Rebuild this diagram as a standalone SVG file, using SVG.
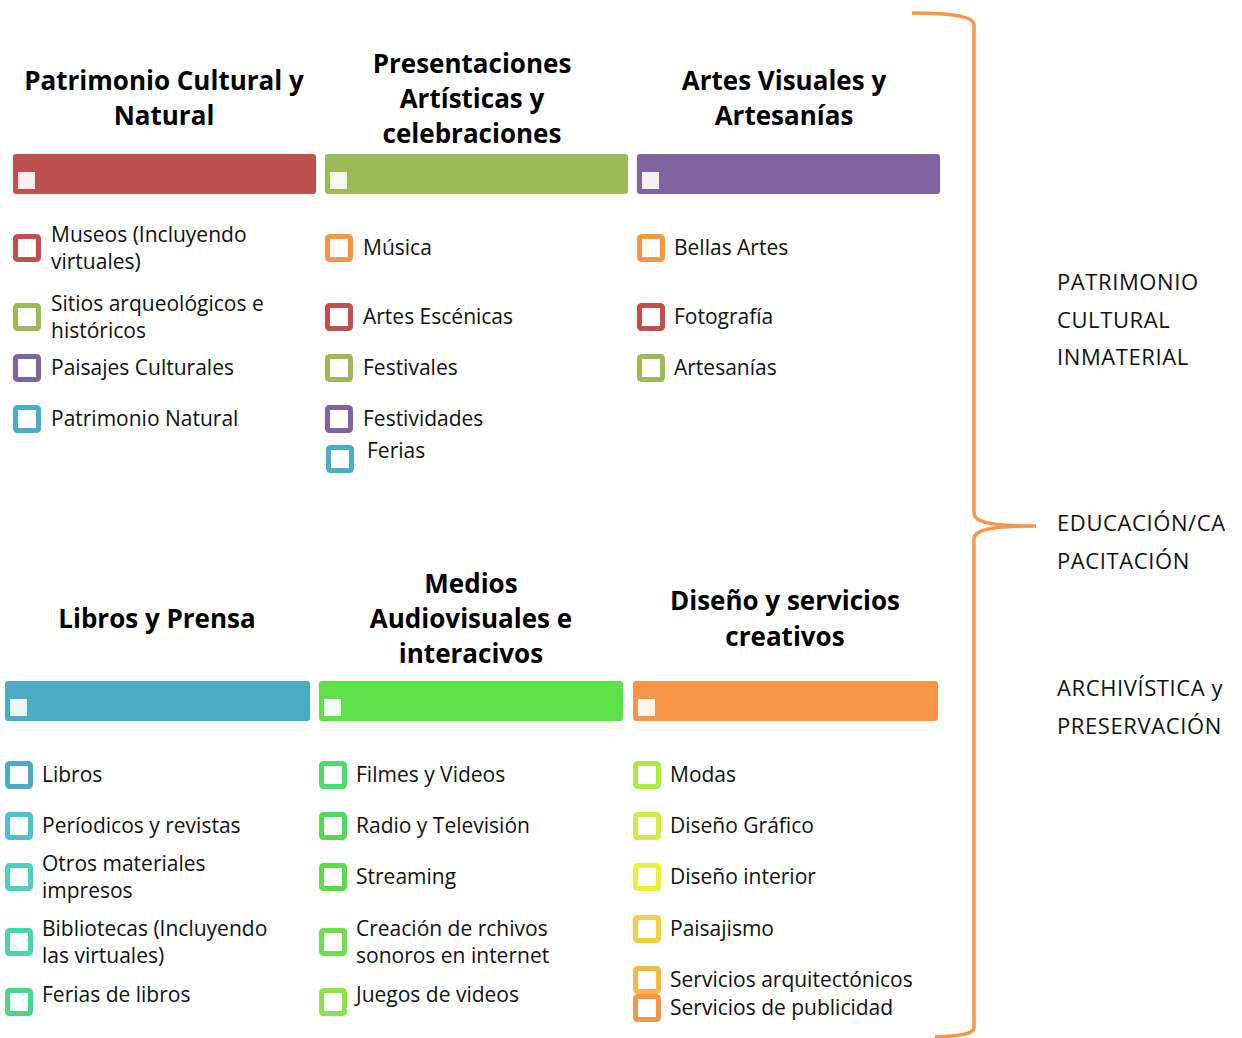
<svg xmlns="http://www.w3.org/2000/svg" width="1242" height="1038" viewBox="0 0 1242 1038">
<style>
.h{font-family:"Open Sans","Liberation Sans",sans-serif;font-weight:bold;font-size:26px;fill:#000;text-anchor:middle}
.t{font-family:"Open Sans","Liberation Sans",sans-serif;font-size:21px;fill:#111}
.r{font-family:"Open Sans","Liberation Sans",sans-serif;font-size:22px;letter-spacing:0.6px;fill:#111}
.cb{fill:#fff;stroke-width:5}
.sq{fill:#fff;fill-opacity:0.9}
</style>
<rect width="1242" height="1038" fill="#fff"/>

<g id="col-patrimonio">
<text class="h" x="164" y="90">Patrimonio Cultural y</text>
<text class="h" x="164" y="125">Natural</text>
<rect x="13" y="154" width="303" height="40" rx="3" fill="#C0504D"/>
<rect class="sq" x="18" y="172" width="17" height="17"/>
<rect class="cb" x="15.5" y="236.5" width="23" height="23" rx="2" stroke="#C0504D"/>
<text class="t" x="51" y="242">Museos (Incluyendo</text>
<text class="t" x="51" y="269">virtuales)</text>
<rect class="cb" x="15.5" y="305.5" width="23" height="23" rx="2" stroke="#9BBB59"/>
<text class="t" x="51" y="311">Sitios arqueológicos e</text>
<text class="t" x="51" y="338">históricos</text>
<rect class="cb" x="15.5" y="356.5" width="23" height="23" rx="2" stroke="#8064A2"/>
<text class="t" x="51" y="375">Paisajes Culturales</text>
<rect class="cb" x="15.5" y="407.5" width="23" height="23" rx="2" stroke="#4BACC6"/>
<text class="t" x="51" y="426">Patrimonio Natural</text>
</g>

<g id="col-presentaciones">
<text class="h" x="472" y="73">Presentaciones</text>
<text class="h" x="472" y="108">Artísticas y</text>
<text class="h" x="472" y="143">celebraciones</text>
<rect x="325" y="154" width="303" height="40" rx="3" fill="#9BBB59"/>
<rect class="sq" x="330" y="172" width="17" height="17"/>
<rect class="cb" x="327.5" y="236.5" width="23" height="23" rx="2" stroke="#F79646"/>
<text class="t" x="363" y="255">Música</text>
<rect class="cb" x="327.5" y="305.5" width="23" height="23" rx="2" stroke="#C0504D"/>
<text class="t" x="363" y="324">Artes Escénicas</text>
<rect class="cb" x="327.5" y="356.5" width="23" height="23" rx="2" stroke="#9BBB59"/>
<text class="t" x="363" y="375">Festivales</text>
<rect class="cb" x="327.5" y="407.5" width="23" height="23" rx="2" stroke="#8064A2"/>
<text class="t" x="363" y="426">Festividades</text>
<rect class="cb" x="328.5" y="447.5" width="23" height="23" rx="2" stroke="#4BACC6"/>
<text class="t" x="367" y="458">Ferias</text>
</g>

<g id="col-artes">
<text class="h" x="784" y="90">Artes Visuales y</text>
<text class="h" x="784" y="125">Artesanías</text>
<rect x="637" y="154" width="303" height="40" rx="3" fill="#8064A2"/>
<rect class="sq" x="642" y="172" width="17" height="17"/>
<rect class="cb" x="639.5" y="236.5" width="23" height="23" rx="2" stroke="#F79646"/>
<text class="t" x="674" y="255">Bellas Artes</text>
<rect class="cb" x="639.5" y="305.5" width="23" height="23" rx="2" stroke="#C0504D"/>
<text class="t" x="674" y="324">Fotografía</text>
<rect class="cb" x="639.5" y="356.5" width="23" height="23" rx="2" stroke="#9BBB59"/>
<text class="t" x="674" y="375">Artesanías</text>
</g>

<g id="col-libros">
<text class="h" x="157" y="628">Libros y Prensa</text>
<rect x="5" y="681" width="305" height="40" rx="3" fill="#4BACC6"/>
<rect class="sq" x="10" y="699" width="17" height="17"/>
<rect class="cb" x="7.5" y="763.5" width="23" height="23" rx="2" stroke="#4BACC6"/>
<text class="t" x="42" y="782">Libros</text>
<rect class="cb" x="7.5" y="814.5" width="23" height="23" rx="2" stroke="#4CC3CB"/>
<text class="t" x="42" y="833">Períodicos y revistas</text>
<rect class="cb" x="7.5" y="865.5" width="23" height="23" rx="2" stroke="#4DD0C0"/>
<text class="t" x="42" y="871">Otros materiales</text>
<text class="t" x="42" y="898">impresos</text>
<rect class="cb" x="7.5" y="930.5" width="23" height="23" rx="2" stroke="#4DD3A8"/>
<text class="t" x="42" y="936">Bibliotecas (Incluyendo</text>
<text class="t" x="42" y="963">las virtuales)</text>
<rect class="cb" x="7.5" y="990.5" width="23" height="23" rx="2" stroke="#4DD68A"/>
<text class="t" x="42" y="1002">Ferias de libros</text>
</g>

<g id="col-medios">
<text class="h" x="471" y="593">Medios</text>
<text class="h" x="471" y="628">Audiovisuales e</text>
<text class="h" x="471" y="663">interacivos</text>
<rect x="319" y="681" width="304" height="40" rx="3" fill="#5EE04A"/>
<rect class="sq" x="324" y="699" width="17" height="17"/>
<rect class="cb" x="321.5" y="763.5" width="23" height="23" rx="2" stroke="#4DDA6E"/>
<text class="t" x="356" y="782">Filmes y Videos</text>
<rect class="cb" x="321.5" y="814.5" width="23" height="23" rx="2" stroke="#4FDB58"/>
<text class="t" x="356" y="833">Radio y Televisión</text>
<rect class="cb" x="321.5" y="865.5" width="23" height="23" rx="2" stroke="#55DE48"/>
<text class="t" x="356" y="884">Streaming</text>
<rect class="cb" x="321.5" y="930.5" width="23" height="23" rx="2" stroke="#6CE04A"/>
<text class="t" x="356" y="936">Creación de rchivos</text>
<text class="t" x="356" y="963">sonoros en internet</text>
<rect class="cb" x="321.5" y="990.5" width="23" height="23" rx="2" stroke="#8CE24A"/>
<text class="t" x="356" y="1002">Juegos de videos</text>
</g>

<g id="col-diseno">
<text class="h" x="785" y="610">Diseño y servicios</text>
<text class="h" x="785" y="646">creativos</text>
<rect x="633" y="681" width="305" height="40" rx="3" fill="#F79646"/>
<rect class="sq" x="638" y="699" width="17" height="17"/>
<rect class="cb" x="635.5" y="763.5" width="23" height="23" rx="2" stroke="#B0E84A"/>
<text class="t" x="670" y="782">Modas</text>
<rect class="cb" x="635.5" y="814.5" width="23" height="23" rx="2" stroke="#D2EA48"/>
<text class="t" x="670" y="833">Diseño Gráfico</text>
<rect class="cb" x="635.5" y="865.5" width="23" height="23" rx="2" stroke="#EEEE3C"/>
<text class="t" x="670" y="884">Diseño interior</text>
<rect class="cb" x="635.5" y="917.5" width="23" height="23" rx="2" stroke="#F5D044"/>
<text class="t" x="670" y="936">Paisajismo</text>
<rect class="cb" x="635.5" y="968.5" width="23" height="23" rx="2" stroke="#F7B84A"/>
<text class="t" x="670" y="987">Servicios arquitectónicos</text>
<rect class="cb" x="635.5" y="996.5" width="23" height="23" rx="2" stroke="#F79646"/>
<text class="t" x="670" y="1015">Servicios de publicidad</text>
</g>

<g id="connectors">
<path d="M912,13 C950,13 974,16 974,25 L974,513 C974,522 990,526 1036,526 C990,526 974,530 974,539 L974,1028 C974,1034 960,1036 935,1037" fill="none" stroke="#F79646" stroke-width="3.5"/>
</g>

<g id="labels-right">
<text class="r" x="1057" y="290">PATRIMONIO</text>
<text class="r" x="1057" y="328">CULTURAL</text>
<text class="r" x="1057" y="365">INMATERIAL</text>
<text class="r" x="1057" y="531">EDUCACIÓN/CA</text>
<text class="r" x="1057" y="569">PACITACIÓN</text>
<text class="r" x="1057" y="696">ARCHIVÍSTICA y</text>
<text class="r" x="1057" y="734">PRESERVACIÓN</text>
</g>
</svg>
